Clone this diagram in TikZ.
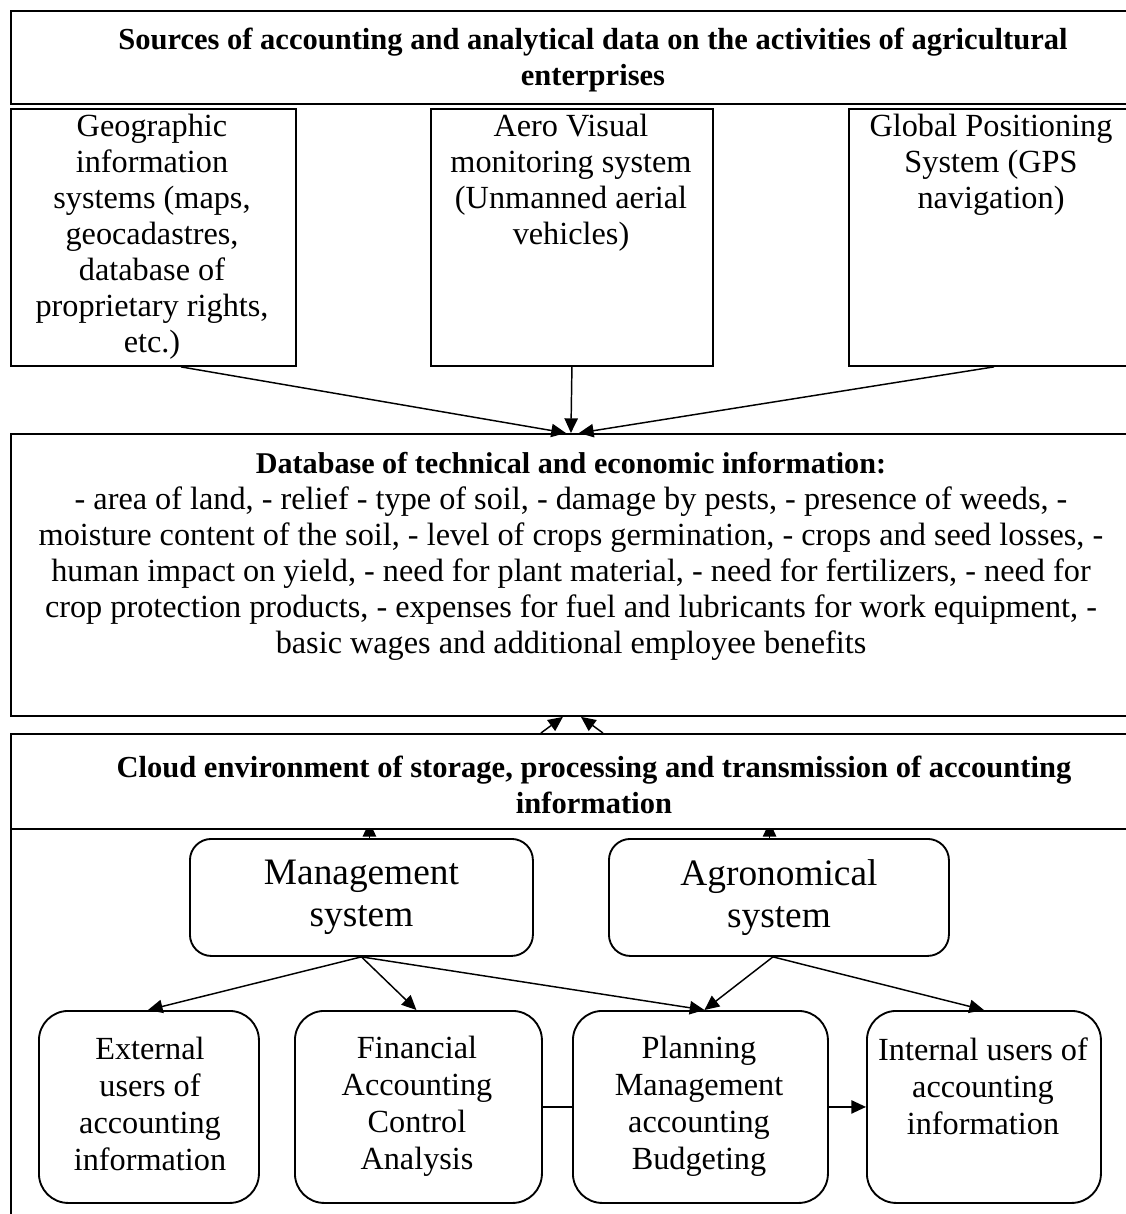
\documentclass[tikz,border=0pt]{standalone}
\usepackage{fontspec}
\setmainfont{Liberation Serif}
\usetikzlibrary{arrows.meta,calc,backgrounds}

\begin{document}
\begin{tikzpicture}[x=0.75pt,y=-0.75pt,
  wh/.style 2 args={minimum width=#1*0.75pt, minimum height=#2*0.75pt},
  box/.style={draw, line width=1.4pt, rectangle, inner sep=0pt, anchor=north west, fill=white},
  rbox/.style={box, rounded corners=22pt},
  txt/.style={align=center, inner sep=0pt, font=\fontsize{24.2}{27}\selectfont},
  hdr/.style={align=center, inner sep=0pt, font=\fontsize{22.9}{27}\selectfont\bfseries},
  big/.style={align=center, inner sep=0pt, font=\fontsize{28}{31}\selectfont},
  arr/.style={-{Triangle[length=11pt,width=10pt]}, line width=1.1pt},
  link/.style={line width=1.1pt}]

\useasboundingbox (0,0) rectangle (1126,1214);
\clip (0,0) rectangle (1126,1214);

% sources block
\node[box, wh={1170}{93}] (top) at (10,10) {};
\node[hdr] (toptxt) at (593,60) {Sources of accounting and analytical data on the activities of agricultural\\enterprises};

\node[box, wh={285}{257}] (s1) at (10,108) {};
\node[box, wh={282}{257}] (s2) at (430,108) {};
\node[box, wh={290}{257}] (s3) at (848,108) {};
\node[txt] (s1txt) at (152,237) {Geographic\\information\\systems (maps,\\geocadastres,\\database of\\proprietary rights,\\etc.)};
\node[txt] (s2txt) at (571,183) {Aero Visual\\monitoring system\\(Unmanned aerial\\vehicles)};
\node[txt] (s3txt) at (991,165) {Global Positioning\\System (GPS\\navigation)};

% database block
\node[box, wh={1122}{282}] (db) at (10,433) {};
\node[txt] (dbtxt) at (571,556) {{\fontsize{22.6}{27}\selectfont\bfseries Database of technical and economic information:}\\
- area of land, - relief - type of soil, - damage by pests, - presence of weeds, -\\
moisture content of the soil, - level of crops germination, - crops and seed losses, -\\
human impact on yield, - need for plant material, - need for fertilizers, - need for\\
crop protection products, - expenses for fuel and lubricants for work equipment, -\\
basic wages and additional employee benefits};

\draw[arr] ([xshift=20.6pt]s1.south) -- ([xshift=-4.5pt]db.north);
\draw[arr] (s2.south) -- ([xshift=-0.75pt]db.north);
\draw[arr] (s3.south) -- ([xshift=5.25pt]db.north);

% cloud block
\node[box, fill=none, wh={1170}{600}] (cloud) at (10,733) {};
\node[box, wh={1170}{95}] (chdr) at (10,733) {};
\node[hdr] (chdrtxt) at (594,785) {Cloud environment of storage, processing and transmission of accounting\\information};

\draw[arr] ([xshift=-41.25pt]chdr.north) -- ([xshift=-6.75pt]db.south);
\draw[arr] ([xshift=5.25pt]chdr.north) -- ([xshift=6.75pt]db.south);

\node[rbox, rounded corners=16pt, wh={343}{117}] (mg) at (189,838) {};
\node[rbox, rounded corners=16pt, wh={340}{117}] (ag) at (608,838) {};
\node[big] (mgtxt) at (mg.center) {Management\\system};
\node[big] (agtxt) at (ag.center) {Agronomical\\system};

% arrow tips that run up under the cloud header
\begin{scope}[on background layer]
  \draw[arr, shorten >=-6pt] ([xshift=6pt]mg.north) -- ([xshift=6pt]mg.north |- chdr.south);
  \draw[arr, shorten >=-6pt] ([xshift=-7pt]ag.north) -- ([xshift=-7pt]ag.north |- chdr.south);
\end{scope}

\node[rbox, wh={220}{192}] (ext) at (38,1010) {};
\node[rbox, wh={247}{192}] (fin) at (294,1010) {};
\node[rbox, wh={255}{192}] (pl) at (572,1010) {};
\node[rbox, wh={234}{192}] (int) at (866,1010) {};
\node[txt, font=\fontsize{24.2}{27.75}\selectfont] (exttxt) at (150,1104) {External\\users of\\accounting\\information};
\node[txt, font=\fontsize{24.2}{27.75}\selectfont] (fintxt) at (417,1106) {Financial\\Accounting\\Control\\Analysis};
\node[txt, font=\fontsize{24.2}{27.75}\selectfont] (pltxt) at (699,1106) {Planning\\Management\\accounting\\Budgeting};
\node[txt, font=\fontsize{24.2}{27.75}\selectfont] (inttxt) at (983,1086) {Internal users of\\accounting\\information};

\draw[arr] (mg.south) -- ([xshift=-0.75pt]ext.north);
\draw[arr] (mg.south) -- ([xshift=-1.5pt]fin.north);
\draw[arr] (mg.south) -- ([xshift=3pt]pl.north);
\draw[arr] ([xshift=-4.5pt]ag.south) -- ([xshift=3pt]pl.north);
\draw[arr] ([xshift=-4.5pt]ag.south) -- (int.north);
\draw[link] (fin.east) -- (pl.west);
\draw[arr] (pl.east) -- (int.west);
\end{tikzpicture}
\end{document}
